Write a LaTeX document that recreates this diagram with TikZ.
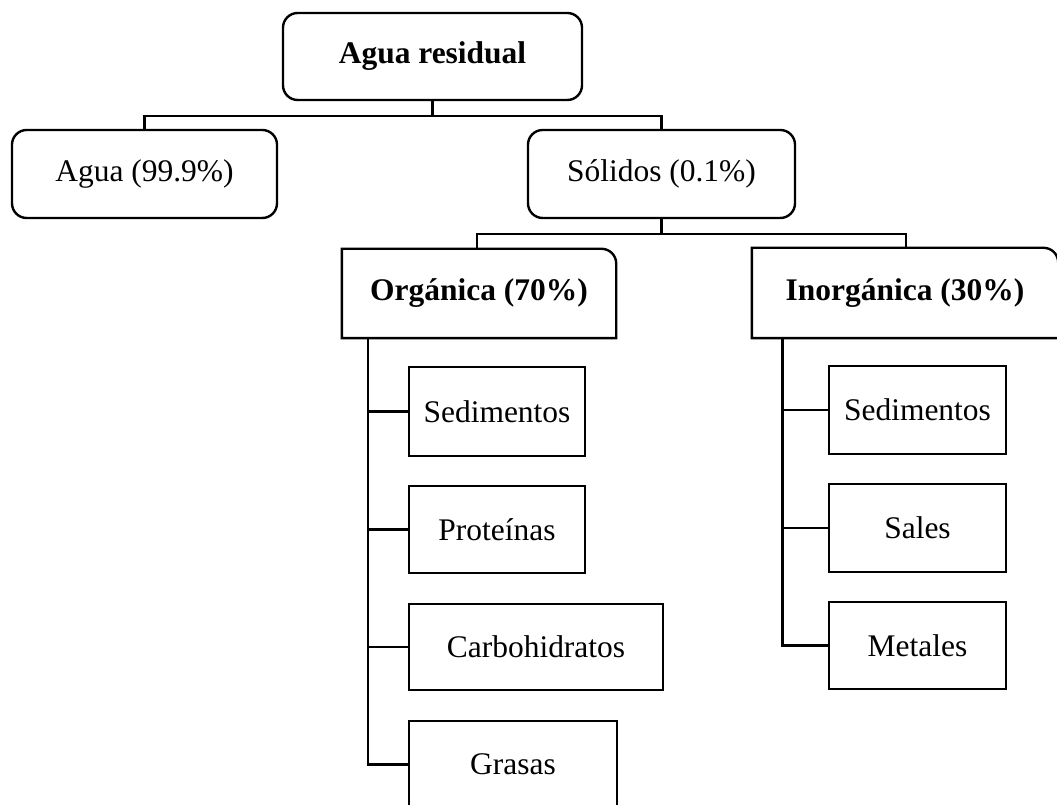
\documentclass[tikz,border=0pt]{standalone}
\usepackage{fontspec}
\setmainfont{Liberation Serif}
\usetikzlibrary{positioning}
\tikzset{
    mynode/.style = {rectangle, line width=1.8pt, draw=black, inner sep=0pt, align=center, font=\fontsize{23.6}{28}\selectfont},
    mynoder/.style = {mynode, rounded corners=11pt},
    mynodeb/.style = {mynode, draw=none, font=\fontsize{23.6}{28}\selectfont\bfseries},
    edgen/.style = {line width=1.7pt, black},
}
\begin{document}
\begin{tikzpicture}[x=0.75pt,y=-0.75pt]
\useasboundingbox (0,0) rectangle (1057,805);
%
\node[mynoder,font=\fontsize{23.6}{28}\selectfont\bfseries,minimum width=299*0.75pt,minimum height=87*0.75pt] at (432.5, 56.5) (res) {Agua residual};
\node[mynoder,minimum width=265*0.75pt,minimum height=88*0.75pt] at (144.5, 174) (agua) {Agua (99.9\%)};
\node[mynoder,minimum width=267*0.75pt,minimum height=88*0.75pt] at (661.5, 174) (sol) {Sólidos (0.1\%)};
\node[mynodeb,minimum width=272*0.75pt,minimum height=87*0.75pt] at (479, 293.5) (org) {Orgánica (70\%)};
\node[mynodeb,minimum width=304*0.75pt,minimum height=88*0.75pt] at (905, 293) (inorg) {Inorgánica (30\%)};
%
\node[mynode,minimum width=176*0.75pt,minimum height=89*0.75pt] at (497, 411.5) (sedo) {Sedimentos};
\node[mynode,minimum width=176*0.75pt,minimum height=87*0.75pt] at (497, 529.5) (prot) {Proteínas};
\node[mynode,minimum width=254*0.75pt,minimum height=86*0.75pt] at (536, 647) (carb) {Carbohidratos};
\node[mynode,minimum width=208*0.75pt,minimum height=87*0.75pt] at (513, 764.5) (gras) {Grasas};
%
\node[mynode,minimum width=177*0.75pt,minimum height=88*0.75pt] at (917.5, 410) (sedi) {Sedimentos};
\node[mynode,minimum width=177*0.75pt,minimum height=88*0.75pt] at (917.5, 528) (sales) {Sales};
\node[mynode,minimum width=177*0.75pt,minimum height=87*0.75pt] at (917.5, 645.5) (met) {Metales};
%
\foreach \n in {org,inorg}
  \draw[edgen,line width=1.8pt] (\n.south west) -- (\n.north west) -- ([xshift=-11pt]\n.north east)
    arc[start angle=90,end angle=0,radius=11pt] -- (\n.south east) -- cycle;
%
\draw[edgen] (res.south) -- ++(0,15) -| (agua.north);
\draw[edgen] (res.south) -- ++(0,15) -| (sol.north);
\draw[edgen] (sol.south) -- ++(0,15) -| ([xshift=-1.5pt]org.north);
\draw[edgen] (sol.south) -- ++(0,15) -| ([xshift=1pt]inorg.north);
%
\foreach \k in {sedo,prot,carb,gras}
  \draw[edgen] ([xshift=19.5pt]org.south west) |- (\k.west);
\foreach \k in {sedi,sales,met}
  \draw[edgen] ([xshift=23pt]inorg.south west) |- (\k.west);

\end{tikzpicture}
\end{document}
